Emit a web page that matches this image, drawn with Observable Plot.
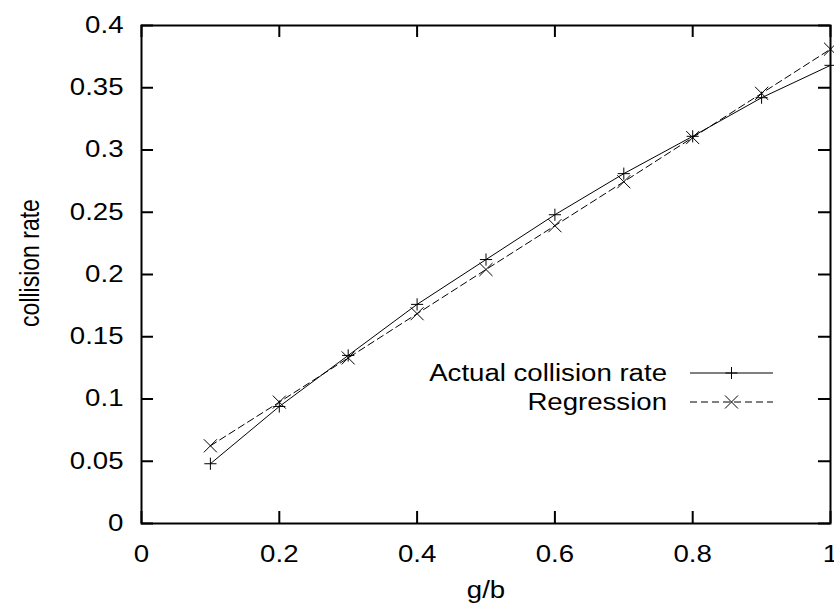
<!DOCTYPE html>
<html><head><meta charset="utf-8">
<script src="https://cdn.jsdelivr.net/npm/d3@7"></script>
<script src="https://cdn.jsdelivr.net/npm/@observablehq/plot@0.6"></script>
<style>html,body{margin:0;padding:0;background:#fff}</style>
</head><body><div id="chart"></div>
<script>
// ---- data ----
const gb = [0.1, 0.2, 0.3, 0.4, 0.5, 0.6, 0.7, 0.8, 0.9, 1.0];
const actualRate = [0.048, 0.094, 0.135, 0.176, 0.212, 0.248, 0.281, 0.311, 0.342, 0.368];
const regressionRate = [0.0624, 0.0975, 0.133, 0.1685, 0.204, 0.2392, 0.2745, 0.310, 0.3455, 0.381];
const xTicks = [0, 0.2, 0.4, 0.6, 0.8, 1];
const xTickLabels = ["0", "0.2", "0.4", "0.6", "0.8", "1"];
const yTicks = [0, 0.05, 0.1, 0.15, 0.2, 0.25, 0.3, 0.35, 0.4];
const yTickLabels = ["0", "0.05", "0.1", "0.15", "0.2", "0.25", "0.3", "0.35", "0.4"];
const seriesNames = ["Actual collision rate", "Regression"];
const xLabel = "g/b";
const yLabel = "collision rate";

const actual = gb.map((x, i) => ({x, y: actualRate[i]}));
const regression = gb.map((x, i) => ({x, y: regressionRate[i]}));

const W = 834, H = 611, mL = 141, mR = 4, mT = 25, mB = 88;
const innerH = H - mT - mB, innerW = W - mL - mR;
const tick = 12;
const FS = 23;
const FONT = "'Liberation Sans', Arial, sans-serif";

const plot = Plot.plot({
  width: W, height: H,
  marginLeft: mL, marginRight: mR, marginTop: mT, marginBottom: mB,
  style: {fontFamily: FONT, fontSize: FS + "px", background: "white", color: "black", overflow: "visible"},
  x: {domain: [0, 1]},
  y: {domain: [0, 0.4]},
  marks: [
    Plot.line(actual, {x: "x", y: "y", stroke: "black", strokeWidth: 1}),
    Plot.line(regression, {x: "x", y: "y", stroke: "black", strokeWidth: 1, strokeDasharray: "7,4"}),
    Plot.dot(actual, {x: "x", y: "y", symbol: "plus", r: 4, stroke: "black", strokeWidth: 1}),
    Plot.dot(regression, {x: "x", y: "y", symbol: "times", r: 6, stroke: "black", strokeWidth: 1}),
    Plot.tickX(xTicks, {x: d => d, insetTop: innerH - tick, strokeWidth: 2, stroke: "black"}),
    Plot.tickX(xTicks, {x: d => d, insetBottom: innerH - tick, strokeWidth: 2, stroke: "black"}),
    Plot.tickY(yTicks, {y: d => d, insetRight: innerW - tick, strokeWidth: 2, stroke: "black"}),
    Plot.tickY(yTicks, {y: d => d, insetLeft: innerW - tick, strokeWidth: 2, stroke: "black"}),
    Plot.frame({stroke: "black", strokeWidth: 2}),
    Plot.axisX(xTicks, {tickSize: 0, tickPadding: 22, fontSize: FS, tickFormat: d => xTickLabels[xTicks.indexOf(d)], label: null}),
    Plot.axisY(yTicks, {tickSize: 0, tickPadding: 18, fontSize: FS, tickFormat: d => yTickLabels[yTicks.indexOf(d)], label: null}),
    Plot.text([xLabel], {frameAnchor: "bottom", dy: 74, fontSize: FS, text: d => d})
  ]
});

document.getElementById("chart").append(plot);
const svg = d3.select(plot);

// y axis title (rotated)
svg.append("text")
  .attr("class", "ylabel")
  .attr("transform", "translate(29,263) rotate(-90) scale(1,1.2)")
  .attr("text-anchor", "middle").attr("dy", "0.35em")
  .attr("font-family", FONT).attr("font-size", FS).attr("fill", "black")
  .text(yLabel);

// ---- legend (gnuplot-style, inside the plot) ----
const lg = svg.append("g").attr("font-family", FONT).attr("font-size", FS);
const legendRows = [
  {name: seriesNames[0], dash: null, sym: d3.symbolPlus, size: 49, y: 373},
  {name: seriesNames[1], dash: "7,4", sym: d3.symbolTimes, size: 112, y: 402}
];
legendRows.forEach(r => {
  lg.append("text").attr("x", 667).attr("y", r.y).attr("dy", "0.35em").attr("text-anchor", "end").attr("fill", "black").text(r.name);
  lg.append("line").attr("x1", 690).attr("x2", 773).attr("y1", r.y).attr("y2", r.y)
    .attr("stroke", "black").attr("stroke-width", 1).attr("stroke-dasharray", r.dash);
  lg.append("path").attr("transform", `translate(731.5,${r.y})`).attr("d", d3.symbol(r.sym, r.size)())
    .attr("fill", "none").attr("stroke", "black").attr("stroke-width", 1);
});

// widen horizontal text a little, as in the reference rendering
plot.querySelectorAll("text").forEach(t => {
  if (t.classList.contains("ylabel")) return;
  let el = t, rotated = false;
  while (el && el !== plot) { if ((el.getAttribute("transform") || "").includes("rotate")) rotated = true; el = el.parentNode; }
  if (rotated) return;
  const len = t.getComputedTextLength();
  if (len > 0) {
    t.setAttribute("textLength", (len * 1.2).toFixed(1));
    t.setAttribute("lengthAdjust", "spacingAndGlyphs");
  }
});
</script>
</body></html>
